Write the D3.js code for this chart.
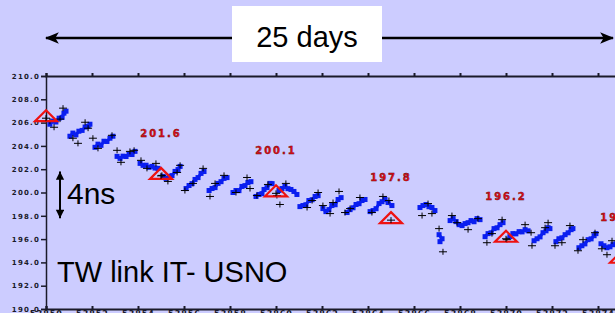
<!DOCTYPE html>
<html>
<head>
<meta charset="utf-8">
<script src="https://cdn.jsdelivr.net/npm/d3@7"></script>
<style>
  body { margin: 0; background: #ccccff; }
  svg { display: block; }
</style>
</head>
<body>
<script>
'use strict';

// clock offset, one run per day: [day, ns]
var blueDays = [
  [[0.17,205.86],[0.30,206.13],[0.43,206.05],[0.57,206.38],[0.70,206.45],[0.78,206.81],[0.87,206.98]],
  [[1.04,204.83],[1.17,205.10],[1.30,204.95],[1.43,205.26],[1.57,205.33],[1.70,205.62],[1.83,205.68],[1.91,205.86]],
  [[2.13,203.88],[2.26,204.15],[2.39,204.05],[2.52,204.40],[2.65,204.38],[2.78,204.66],[2.91,204.83]],
  [[3.09,203.10],[3.22,202.93],[3.35,203.12],[3.48,203.09],[3.61,203.28],[3.74,203.26],[3.87,203.53]],
  [[4.09,202.50],[4.22,202.33],[4.35,202.34],[4.48,202.16],[4.61,202.24],[4.74,202.10],[4.87,202.07]],
  [[5.09,201.38],[5.22,201.21],[5.35,201.38],[5.48,201.45],[5.61,201.81],[5.74,201.97],[5.83,202.24]],
  [[6.09,200.34],[6.22,200.60],[6.35,200.76],[6.48,201.12],[6.61,201.28],[6.74,201.64],[6.87,201.80]],
  [[7.09,200.17],[7.22,200.34],[7.35,200.42],[7.48,200.78],[7.61,200.93],[7.74,201.21],[7.87,201.28]],
  [[8.13,200.00],[8.26,200.17],[8.39,200.16],[8.52,200.52],[8.65,200.59],[8.78,200.86],[8.91,200.93]],
  [[9.13,199.66],[9.26,199.83],[9.39,199.90],[9.48,200.26],[9.61,200.42],[9.74,200.78],[9.83,200.76]],
  [[10.13,200.17],[10.26,200.34],[10.39,200.52],[10.52,200.33],[10.65,200.26],[10.78,200.09],[10.91,199.83]],
  [[11.04,198.79],[11.17,198.88],[11.30,198.95],[11.43,199.31],[11.57,199.38],[11.70,199.66],[11.83,199.73]],
  [[12.04,198.62],[12.17,198.36],[12.30,198.53],[12.43,198.88],[12.57,198.95],[12.70,199.40],[12.83,199.56]],
  [[13.09,198.28],[13.22,198.53],[13.35,198.69],[13.48,198.97],[13.61,199.04],[13.74,199.31],[13.87,199.40]],
  [[14.09,198.36],[14.22,198.45],[14.35,198.61],[14.48,199.05],[14.61,199.21],[14.74,199.40],[14.87,199.14],[15.04,198.88]],
  [[16.26,198.71],[16.39,198.88],[16.52,198.97],[16.65,198.78],[16.78,198.71],[16.91,198.45]],
  [[17.09,196.38],[17.22,196.03],[17.13,195.78]],
  [[17.57,197.59],[17.70,197.76],[17.83,197.50],[17.96,197.24],[18.09,197.16],[18.22,197.33],[18.35,197.41],[18.48,197.59],[18.61,197.49],[18.74,197.76],[18.87,197.67]],
  [[19.09,196.21],[19.22,196.47],[19.35,196.54],[19.48,196.90],[19.61,196.97],[19.74,197.24],[19.87,197.41]],
  [[20.17,196.21],[20.30,196.47],[20.43,196.45],[20.57,196.64],[20.70,196.62],[20.83,196.81],[20.96,196.71]],
  [[21.22,195.86],[21.35,196.03],[21.48,196.19],[21.61,196.55],[21.74,196.71],[21.83,196.98],[21.91,196.90]],
  [[22.17,195.78],[22.30,196.03],[22.43,196.11],[22.57,196.38],[22.70,196.54],[22.83,196.81],[22.91,196.90]],
  [[23.17,195.26],[23.30,195.43],[23.43,195.59],[23.57,195.95],[23.70,196.02],[23.83,196.29],[23.91,196.47]],
  [[24.13,195.60],[24.26,195.43],[24.39,195.26],[24.52,195.34],[24.65,195.52],[24.78,195.60]]
];

// second receiver, plotted as crosses: [day, ns]
var crossPts = [
  [0.74,207.24],[0.35,205.60],[0.17,206.12],[0.61,206.30],
  [1.70,206.03],[1.39,204.22],[1.17,204.66],[1.83,205.52],
  [2.04,204.66],[2.26,203.79],[2.87,204.91],
  [3.09,203.62],[3.26,202.59],[3.65,203.53],[3.83,203.62],
  [4.13,202.76],[4.39,202.07],[4.78,202.50],
  [5.83,202.33],[5.70,201.72],[5.30,200.95],[5.04,201.47],
  [6.83,202.07],[6.39,200.78],[6.04,200.17],
  [7.13,199.66],[7.74,201.47],[7.35,200.78],
  [8.74,201.29],[8.87,200.34],[8.26,200.00],
  [9.65,200.69],[9.17,199.74],
  [10.17,198.97],[10.43,200.78],[10.04,199.74],
  [11.83,200.00],[11.35,198.71],[11.57,199.31],
  [12.74,200.09],[12.48,199.14],[12.35,198.19],[12.04,198.88],
  [13.65,199.57],[13.22,198.62],[13.00,198.28],
  [14.65,199.66],[14.17,198.28],[14.91,199.31],
  [16.35,198.02],[16.78,198.19],[16.61,199.05],
  [17.09,196.90],[17.26,194.91],
  [17.87,197.41],[18.35,196.81],[18.78,197.76],[17.65,198.02],
  [19.17,195.69],[19.83,197.67],[19.39,196.47],
  [20.83,197.24],[21.09,196.55],[20.04,195.95],
  [21.83,197.41],[21.13,195.43],[21.70,196.98],
  [22.13,195.43],[22.78,197.16],[22.43,195.69],
  [23.13,195.00],[23.87,196.55],[23.35,195.95],
  [24.17,195.17],[24.61,195.86],[24.39,194.66]
];

// calibration points (red triangles)
var calDays = [0, 5, 10, 15, 20, 25];
var calValues = [206.55, 201.6, 200.1, 197.8, 196.2, 194.4];
var calLabels = ['', '201.6', '200.1', '197.8', '196.2', '194.4'];

var yTickValues = [190, 192, 194, 196, 198, 200, 202, 204, 206, 208, 210];
var xTickDays = [0, 2, 4, 6, 8, 10, 12, 14, 16, 18, 20, 22, 24];
var xTickLabels = ['53850', '53852', '53854', '53856', '53858', '53860', '53862',
                   '53864', '53866', '53868', '53870', '53872', '53874'];

var width = 615,
    height = 313;

var x = d3.scaleLinear().domain([0, 25]).range([46, 621]);
var y = d3.scaleLinear().domain([190, 210]).range([309, 76]);

var svg = d3.select('body')
  .append('svg')
    .attr('width', width)
    .attr('height', height);

svg.append('rect')
  .attr('width', width)
  .attr('height', height)
  .attr('fill', '#ccccff');

var defs = svg.append('defs');
defs.append('marker')
  .attr('id', 'head')
  .attr('viewBox', '0 0 12 10')
  .attr('refX', 11)
  .attr('refY', 5)
  .attr('markerUnits', 'userSpaceOnUse')
  .attr('markerWidth', 14)
  .attr('markerHeight', 12)
  .attr('orient', 'auto-start-reverse')
  .append('path')
    .attr('d', 'M0,0 L12,5 L0,10 L3,5 Z')
    .attr('fill', '#000');
defs.append('marker')
  .attr('id', 'vhead')
  .attr('viewBox', '0 0 10 12')
  .attr('refX', 10)
  .attr('refY', 5)
  .attr('markerUnits', 'userSpaceOnUse')
  .attr('markerWidth', 12)
  .attr('markerHeight', 10)
  .attr('orient', 'auto-start-reverse')
  .append('path')
    .attr('d', 'M0,0 L10,5 L0,10 Z')
    .attr('fill', '#000');

// frame: top and bottom axis lines with ticks, left axis
var axisColor = '#1a1a2a';

svg.append('g')
  .attr('transform', 'translate(0,' + y(210) + ')')
  .call(d3.axisTop(x).tickValues(xTickDays).tickSize(3).tickFormat(''))
  .call(function (g) {
    g.select('.domain').attr('stroke', axisColor).attr('stroke-width', 2);
    g.selectAll('.tick line').attr('stroke', axisColor).attr('stroke-width', 2);
  });

svg.append('g')
  .attr('transform', 'translate(0,' + y(190) + ')')
  .call(d3.axisBottom(x).tickValues(xTickDays).tickSize(-3)
    .tickFormat(function (d, i) { return xTickLabels[i]; }))
  .call(function (g) {
    g.select('.domain').attr('stroke', axisColor).attr('stroke-width', 2);
    g.selectAll('.tick line').attr('stroke', axisColor).attr('stroke-width', 2);
    g.selectAll('.tick text')
      .attr('y', 2)
      .attr('dy', '0.71em')
      .attr('fill', '#1a1a2a')
      .style('font', 'bold 8px "DejaVu Sans"')
      .style('letter-spacing', '1px');
  });

svg.append('g')
  .attr('transform', 'translate(' + x(0) + ',0)')
  .call(d3.axisLeft(y).tickValues(yTickValues).tickSize(5).tickPadding(1)
    .tickFormat(d3.format('.1f')))
  .call(function (g) {
    g.select('.domain').attr('stroke', axisColor).attr('stroke-width', 1.5);
    g.selectAll('.tick line').attr('stroke', axisColor).attr('stroke-width', 1.5);
    g.selectAll('.tick text')
      .attr('fill', '#1a1a2a')
      .style('font', 'bold 7px "DejaVu Sans"')
      .style('letter-spacing', '1.2px');
  });

// blue runs
var line = d3.line()
  .x(function (d) { return x(d[0]); })
  .y(function (d) { return y(d[1]); });

svg.append('g')
  .selectAll('path')
  .data(blueDays)
  .enter()
  .append('path')
    .attr('d', line)
    .attr('fill', 'none')
    .attr('stroke', '#0a1ef0')
    .attr('stroke-width', 3);

svg.append('g')
  .selectAll('rect')
  .data(d3.merge(blueDays))
  .enter()
  .append('rect')
    .attr('x', function (d) { return x(d[0]) - 2.5; })
    .attr('y', function (d) { return y(d[1]) - 2.5; })
    .attr('width', 5)
    .attr('height', 5)
    .attr('fill', '#0a1ef0');

// crosses
svg.append('g')
  .selectAll('path')
  .data(crossPts)
  .enter()
  .append('path')
    .attr('transform', function (d) {
      return 'translate(' + x(d[0]) + ',' + y(d[1]) + ')';
    })
    .attr('fill', 'none')
    .attr('stroke', '#000')
    .attr('stroke-width', 1)
    .attr('d', 'M-4,0H4M0,-3V3');

// calibration triangles and labels
var cal = svg.append('g')
  .selectAll('g')
  .data(calDays)
  .enter()
  .append('g')
    .attr('transform', function (d, i) {
      return 'translate(' + x(d) + ',' + y(calValues[i]) + ')';
    });

cal.append('path')
  .attr('d', 'M0,-6 L11,5 L-11,5 Z')
  .attr('fill', 'none')
  .attr('stroke', '#ee1111')
  .attr('stroke-width', 2.2);

cal.append('path')
  .attr('d', 'M-4,2H4M0,-1V5')
  .attr('stroke', '#000')
  .attr('stroke-width', 1);

cal.append('text')
  .attr('y', -37)
  .attr('text-anchor', 'middle')
  .attr('fill', '#e8101a')
  .attr('stroke', '#5a0000')
  .attr('stroke-width', 0.4)
  .style('font', 'bold 10px "DejaVu Sans"')
  .style('letter-spacing', '2px')
  .text(function (d, i) { return calLabels[i]; });

// 25 days span
svg.append('line')
  .attr('x1', x(0))
  .attr('x2', x(24.65))
  .attr('y1', 38)
  .attr('y2', 38)
  .attr('stroke', '#000')
  .attr('stroke-width', 2.5)
  .attr('marker-start', 'url(#head)')
  .attr('marker-end', 'url(#head)');

svg.append('rect')
  .attr('x', 232)
  .attr('y', 6)
  .attr('width', 150)
  .attr('height', 56)
  .attr('fill', '#fff');

svg.append('text')
  .attr('x', 307)
  .attr('y', 47)
  .attr('text-anchor', 'middle')
  .style('font', '29px "Liberation Sans"')
  .text('25 days');

// 4 ns scale bar
svg.append('line')
  .attr('x1', 60)
  .attr('x2', 60)
  .attr('y1', y(201.8))
  .attr('y2', y(197.8))
  .attr('stroke', '#000')
  .attr('stroke-width', 2)
  .attr('marker-start', 'url(#vhead)')
  .attr('marker-end', 'url(#vhead)');

svg.append('text')
  .attr('x', 67)
  .attr('y', 204)
  .style('font', '30px "Liberation Sans"')
  .text('4ns');

svg.append('text')
  .attr('x', 57)
  .attr('y', 282)
  .style('font', '29px "Liberation Sans"')
  .text('TW link IT- USNO');
</script>
</body>
</html>
